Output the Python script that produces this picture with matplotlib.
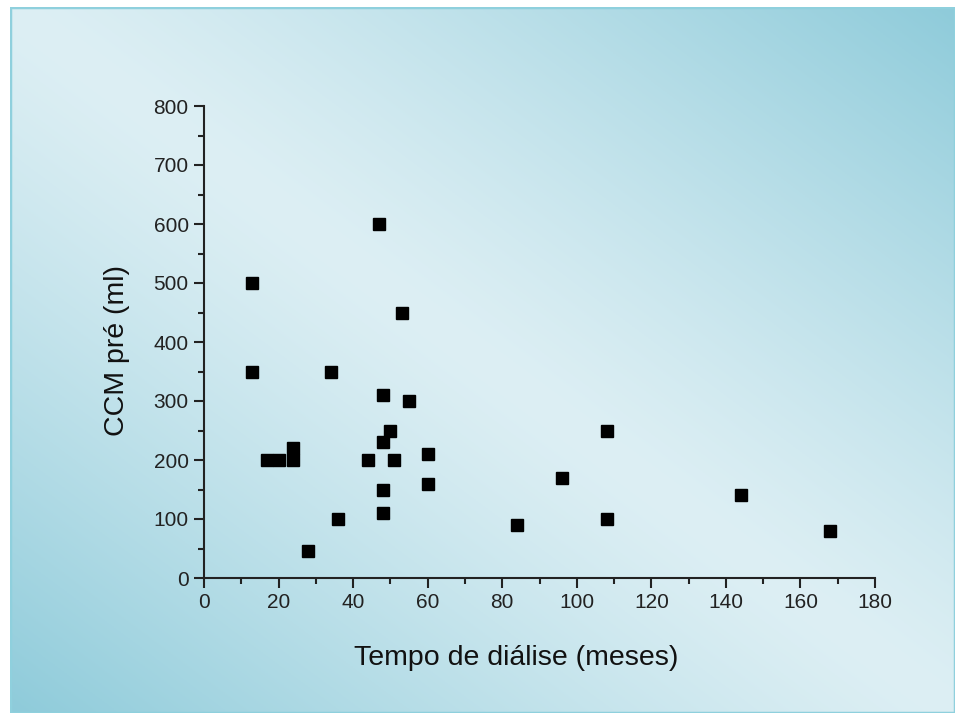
import numpy as np
import matplotlib.pyplot as plt
from matplotlib.colors import to_rgb
from matplotlib.patches import Rectangle

plt.rcParams['font.family'] = ['Liberation Sans', 'DejaVu Sans']

# tempo de diálise (meses) x CCM pré (ml)
meses = [13, 13, 47, 53, 34, 48, 55, 50, 48, 17, 20, 24, 24, 44, 51, 60, 60, 48, 48,
         36, 28, 84, 96, 108, 108, 144, 168]
ccm = [500, 350, 600, 450, 350, 310, 300, 250, 230, 200, 200, 200, 220, 200, 200, 210, 160,
       150, 110, 100, 45, 90, 170, 250, 100, 140, 80]

fig = plt.figure(figsize=(9.55, 7.17), dpi=100)

# fundo em degradê (claro na diagonal principal, escuro nos cantos)
bg = fig.add_axes([10 / 955, 4 / 717, 1 - 10 / 955, 1 - 11 / 717], zorder=-10)
W, H = 400, 300
u = np.linspace(0, 1, W)[None, :]
v = np.linspace(0, 1, H)[:, None]
d = np.clip(np.abs(u - v), 0, 1)
light = np.array(to_rgb('#ddeff4'))
dark = np.array(to_rgb('#8ecbda'))
img = light + (dark - light) * d[..., None] ** 1.25
bg.imshow(img, aspect='auto', extent=[0, 1, 0, 1], origin='upper')
bg.add_patch(Rectangle((0, 0), 1, 1, fill=False, ec='#8fd0dd', lw=2.5, transform=bg.transAxes))
bg.set_axis_off()

ax = fig.add_axes([204 / 955, 1 - 578 / 717, (875 - 204) / 955, (578 - 106) / 717])
ax.patch.set_alpha(0)
ax.plot(meses, ccm, 's', color='black', markersize=8.5, clip_on=False)

ax.set_xlim(0, 180)
ax.set_ylim(0, 800)
ax.set_xticks(np.arange(0, 181, 20))
ax.set_yticks(np.arange(0, 801, 100))
ax.set_xticks(np.arange(0, 181, 10), minor=True)
ax.set_yticks(np.arange(0, 801, 50), minor=True)
for side in ['top', 'right']:
    ax.spines[side].set_visible(False)
for side in ['left', 'bottom']:
    ax.spines[side].set_linewidth(1.5)
    ax.spines[side].set_color('#222222')
ax.tick_params(which='major', length=7, width=1.5, color='#222222', labelsize=15,
               labelcolor='#222222', pad=4)
ax.tick_params(which='minor', length=4, width=1.5, color='#222222')

# títulos dos eixos
fig.text(516 / 955, 1 - 658 / 717, 'Tempo de diálise (meses)', fontsize=20.5,
         color='#111111', ha='center', va='center')
fig.text(117 / 955, 1 - 350 / 717, 'CCM pré (ml)', fontsize=20.5, color='#111111',
         ha='center', va='center', rotation=90)

fig.savefig('out.png', dpi=100)
